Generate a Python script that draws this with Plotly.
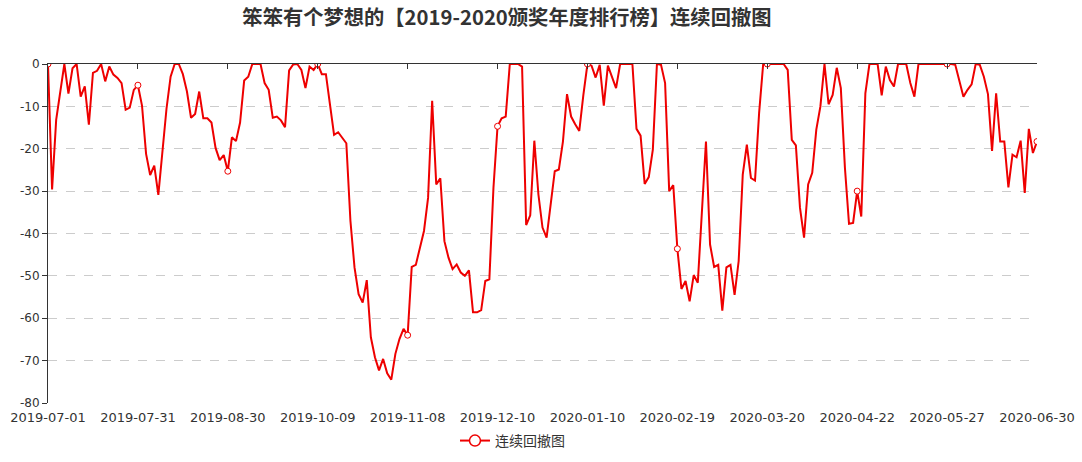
import plotly.graph_objects as go
import pandas as pd

# ---- data ----
holidays = [
    "2019-09-13", "2019-10-01", "2019-10-02", "2019-10-03", "2019-10-04", "2019-10-07",
    "2020-01-01", "2020-01-24", "2020-01-27", "2020-01-28", "2020-01-29", "2020-01-30",
    "2020-01-31", "2020-04-06", "2020-05-01", "2020-05-04", "2020-05-05",
    "2020-06-25", "2020-06-26",
]
dates = [d.strftime("%Y-%m-%d") for d in pd.bdate_range("2019-07-01", "2020-06-30")
         if d.strftime("%Y-%m-%d") not in holidays]

tick_labels = ["2019-07-01", "2019-07-31", "2019-08-30", "2019-10-09", "2019-11-08",
               "2019-12-10", "2020-01-10", "2020-02-19", "2020-03-20", "2020-04-22",
               "2020-05-27", "2020-06-30"]

drawdown = [
    0, -29.6, -13.2, -7, 0, -7, -1, 0, -7.7, -5.3,
    -14.3, -2.1, -1.6, 0, -4.1, -0.6, -2.5, -3.3, -4.5, -10.8,
    -10.3, -6.1, -5, -9.8, -21.2, -26.2, -24, -30.9, -20.5, -10.5,
    -3, 0, 0, -2.4, -6.5, -12.7, -11.8, -6.5, -12.8, -12.8,
    -13.8, -19.8, -22.7, -21.5, -25.3, -17.3, -18.2, -13.8, -3.9, -3,
    0, 0, 0, -4.5, -6.1, -12.7, -12.4, -13.3, -14.9, -1.5,
    -0.1, 0, -1.4, -5.7, -0.6, -1.4, 0, -2.4, -2.4, -9.6,
    -16.7, -16.1, -17.5, -18.7, -37, -48, -54.3, -56.3, -51, -64.5,
    -69.2, -72.3, -69.6, -73, -74.5, -68.4, -64.9, -62.5, -64, -47.9,
    -47.4, -43, -39.4, -31.6, -8.7, -28.4, -27, -41.8, -45.7, -48.4,
    -47.3, -49.2, -50, -48.7, -58.6, -58.6, -58.1, -51.2, -50.8, -29.2,
    -14.7, -12.8, -12.4, 0, 0, 0, -0.6, -38, -35.7, -18.1,
    -30.8, -38.6, -41, -33.5, -25.3, -24.9, -18.3, -7.1, -12.4, -14.2,
    -15.8, -7.3, 0, -0.4, -3.2, -0.2, -9.8, -0.4, -3.2, -5.7,
    0, 0, 0, 0, -15.3, -16.9, -28.3, -26.7, -20.2, 0,
    -0.2, -4.5, -30, -28.6, -43.6, -53.1, -51.2, -56, -49.8, -51.6,
    -35, -18.3, -42.6, -47.9, -47.4, -58.2, -48, -47.4, -54.5, -46.5,
    -26.1, -19, -26.9, -27.5, -11.6, 0, 0, 0, 0, 0,
    0, -1.4, -17.9, -19.2, -33.9, -41, -28.4, -25.7, -15.5, -10,
    0, -9.5, -7.3, -0.9, -5.7, -24.5, -37.7, -37.5, -30, -36,
    -6.9, 0, 0, 0, -7.4, -0.6, -3.8, -5.3, 0, 0,
    0, -4.5, -7.7, 0, 0, 0, 0, 0, 0, 0,
    0, 0, -0.2, -3.8, -7.7, -6.1, -4.8, 0, -0.2, -3,
    -7.1, -20.5, -6.9, -18.3, -18.3, -29.1, -21.4, -22, -18.1, -30.4,
    -15.3, -21, -18.3,
]

y_ticks = [0, -10, -20, -30, -40, -50, -60, -70, -80]
series_name = "连续回撤图"
title_text = "笨笨有个梦想的【2019-2020颁奖年度排行榜】连续回撤图"

RED = "#ee0000"
FONT = "DejaVu Sans"
CJK = "Noto Sans CJK SC"

marked = [i for i, d in enumerate(dates) if d in tick_labels]

fig = go.Figure()
fig.add_trace(go.Scatter(
    x=dates, y=drawdown, mode="lines+markers", name=series_name, showlegend=False,
    line=dict(color=RED, width=2),
    marker=dict(symbol="circle", size=6, color="white", line=dict(color=RED, width=1)),
    selectedpoints=marked,
    selected=dict(marker=dict(opacity=1)),
    unselected=dict(marker=dict(opacity=0)),
    hoverinfo="x+y",
))
# invisible helper trace for the top (zero) axis line
fig.add_trace(go.Scatter(
    x=dates, y=drawdown, xaxis="x2", mode="lines", line=dict(width=0),
    opacity=0, showlegend=False, hoverinfo="skip",
))
# legend entry
fig.add_trace(go.Scatter(
    x=[None], y=[None], mode="lines+markers", name=series_name,
    line=dict(color=RED, width=2),
    marker=dict(symbol="circle", size=11, color="white", line=dict(color=RED, width=1.5)),
))

fig.update_layout(
    width=1082, height=462,
    margin=dict(l=48, r=45, t=64, b=59, autoexpand=False),
    paper_bgcolor="white", plot_bgcolor="white",
    title=dict(text=title_text, x=0.4685, xanchor="center", y=0.961, yanchor="middle",
               xref="container", yref="container",
               font=dict(family=CJK, size=20.3, color="#333333", weight="bold")),
    xaxis=dict(type="category", categoryorder="array", categoryarray=dates,
               range=[0, len(dates) - 1], tickvals=tick_labels, ticktext=tick_labels,
               showgrid=False, showline=False, ticks="", zeroline=False,
               ticklabelstandoff=5,
               tickfont=dict(family=FONT, size=13, color="#333333")),
    xaxis2=dict(type="category", categoryorder="array", categoryarray=dates,
                overlaying="x", side="top", anchor="y",
                range=[0, len(dates) - 1], tickvals=tick_labels,
                showticklabels=False, showgrid=False, showline=True,
                linecolor="#333333", linewidth=1, ticks="inside", ticklen=5,
                tickcolor="#333333", zeroline=False),
    yaxis=dict(range=[-80, 0], tickvals=y_ticks, ticktext=[str(v) for v in y_ticks],
               showgrid=True, gridcolor="#cccccc", griddash="dash", gridwidth=1,
               showline=True, linecolor="#333333", linewidth=1,
               ticks="outside", ticklen=5, tickcolor="#333333", zeroline=False,
               tickfont=dict(family=FONT, size=12, color="#333333")),
    legend=dict(orientation="h", x=0.4115, xanchor="left", y=-0.112, yanchor="middle",
                font=dict(family=CJK, size=14, color="#333333"), itemwidth=30),
    showlegend=True,
)

fig.write_html(
    "out.html",
    config={"displayModeBar": False},
    post_script="document.body.style.margin='0';document.body.style.padding='0';"
                "document.documentElement.style.overflow='hidden';",
)
